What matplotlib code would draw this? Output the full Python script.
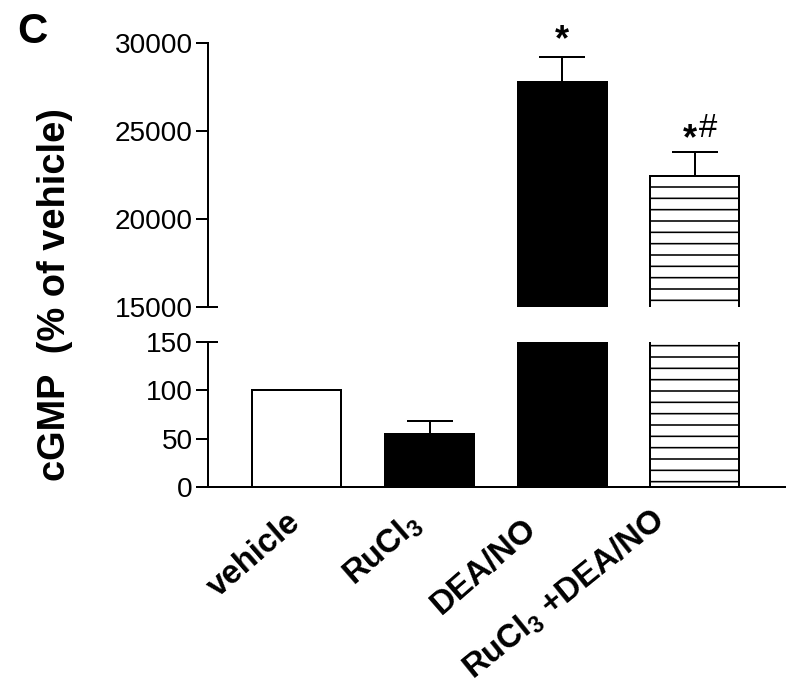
import matplotlib
matplotlib.use("Agg")
import matplotlib.pyplot as plt
from matplotlib.transforms import ScaledTranslation

# data
groups = ["vehicle", r"RuCl$_\mathregular{3}$", "DEA/NO", r"RuCl$_\mathregular{3}$ +DEA/NO"]
means = [100, 55, 27800, 22450]
sem = [0, 13, 1420, 1330]
stars = ["", "", "*", "*"]
hashes = ["", "", "", "#"]

fills = ["white", "black", "black", "white"]
hatches = [None, None, None, "-"]

DPI = 68  # hatch spacing is dpi/6 px, this gives ~11 px like the original


def px(v):
    # pixels -> points at this dpi
    return v * 72.0 / DPI


plt.rcParams["font.family"] = ["Liberation Sans", "DejaVu Sans"]
plt.rcParams["hatch.linewidth"] = px(1.6)
plt.rcParams["axes.linewidth"] = px(2)

W, H = 787, 693
fig = plt.figure(figsize=(W / DPI, H / DPI), dpi=DPI)

left, right = 208, 785
ax_top = fig.add_axes([left / W, 1 - 307 / H, (right - left) / W, (307 - 43) / H])
ax_bot = fig.add_axes([left / W, 1 - 487 / H, (right - left) / W, (487 - 342) / H])

x = list(range(len(groups)))
for ax in (ax_top, ax_bot):
    ax.bar(x, means, width=0.67, color=fills, edgecolor="black",
           hatch=hatches, linewidth=px(2))
    idx = [i for i in x if sem[i] > 0]
    ax.errorbar([x[i] for i in idx], [means[i] for i in idx],
                yerr=[[0] * len(idx), [sem[i] for i in idx]],
                fmt="none", ecolor="black", elinewidth=px(2),
                capsize=px(23), capthick=px(2))
    ax.set_xlim(-0.67, 3.68)
    ax.spines["top"].set_visible(False)
    ax.spines["right"].set_visible(False)
    ax.tick_params(axis="y", length=px(12), width=px(2), labelsize=px(28), pad=px(3))

ax_top.set_ylim(15000, 30000)
ax_top.set_yticks([15000, 20000, 25000, 30000])
ax_top.spines["bottom"].set_visible(False)
ax_top.set_xticks([])

ax_bot.set_ylim(0, 150)
ax_bot.set_yticks([0, 50, 100, 150])
ax_bot.set_xticks(x)
ax_bot.set_xticklabels(groups, rotation=41, ha="right", rotation_mode="anchor",
                       fontsize=px(33), fontweight="bold")
ax_bot.tick_params(axis="x", length=0, pad=px(20))
# nudge labels like the original layout
label_dx = [-10, -24, -40, -45]
label_dy = [0, 0, -6, 4]
label_rot = [41, 41, 41, 39]
for lab, dx, dy, r in zip(ax_bot.get_xticklabels(), label_dx, label_dy, label_rot):
    lab.set_rotation(r)
    lab.set_transform(lab.get_transform()
                      + ScaledTranslation(dx / DPI, dy / DPI, fig.dpi_scale_trans))

# axis break caps
ax_top.plot([0], [0], marker="_", ms=px(20), mew=px(2), color="black",
            transform=ax_top.transAxes, clip_on=False)
ax_bot.plot([0], [1], marker="_", ms=px(20), mew=px(2), color="black",
            transform=ax_bot.transAxes, clip_on=False)

# significance marks
for i in x:
    top = means[i] + sem[i]
    if stars[i]:
        off = (px(-5), px(3)) if hashes[i] else (0, px(7))
        ax_top.annotate(stars[i], xy=(x[i], top), xytext=off,
                        textcoords="offset points", ha="center", va="baseline",
                        fontsize=px(36), fontweight="bold", annotation_clip=False)
    if hashes[i]:
        ax_top.annotate(hashes[i], xy=(x[i], top), xytext=(px(13), px(15)),
                        textcoords="offset points", ha="center", va="baseline",
                        fontsize=px(33), annotation_clip=False)

fig.text(55 / W, 1 - 295 / H, "cGMP  (% of vehicle)", rotation=90,
         ha="center", va="center", fontsize=px(38), fontweight="bold")
fig.text(32 / W, 1 - 32 / H, "C", ha="center", va="center",
         fontsize=px(42), fontweight="bold")

fig.savefig("out.png", dpi=DPI)
